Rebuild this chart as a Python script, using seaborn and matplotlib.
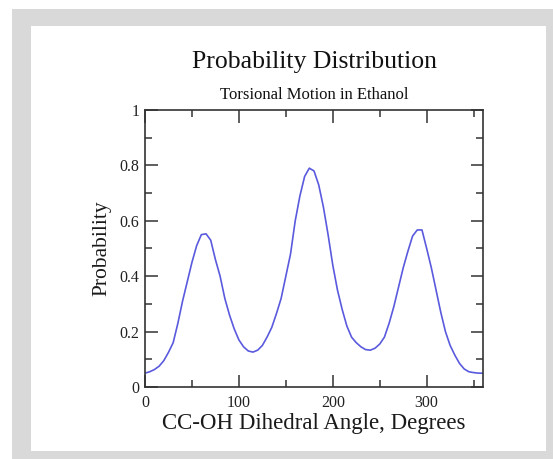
import numpy as np
import pandas as pd
import matplotlib
matplotlib.use('Agg')
import matplotlib.pyplot as plt
import seaborn as sns
from matplotlib.patches import Rectangle
from matplotlib.ticker import MultipleLocator

# dihedral angle (degrees), sampled every 5 degrees
angle = list(range(0, 361, 5))
# probability
prob = [0.050, 0.055, 0.063, 0.075, 0.095, 0.125, 0.160, 0.230, 0.310, 0.380,
        0.450, 0.510, 0.550, 0.553, 0.530, 0.460, 0.400, 0.320, 0.260, 0.210,
        0.170, 0.145, 0.130, 0.126, 0.133, 0.150, 0.180, 0.215, 0.265, 0.320,
        0.400, 0.480, 0.600, 0.690, 0.760, 0.790, 0.780, 0.730, 0.650, 0.550,
        0.440, 0.350, 0.280, 0.220, 0.180, 0.160, 0.145, 0.135, 0.133, 0.140,
        0.155, 0.180, 0.230, 0.290, 0.360, 0.430, 0.490, 0.545, 0.567, 0.567,
        0.500, 0.430, 0.350, 0.270, 0.200, 0.150, 0.115, 0.085, 0.065, 0.055,
        0.052, 0.050, 0.050]

x_ticks = [0, 100, 200, 300]
x_ticklabels = ['0', '100', '200', '300']
y_ticks = [0, 0.2, 0.4, 0.6, 0.8, 1.0]
y_ticklabels = ['0', '0.2', '0.4', '0.6', '0.8', '1']

title = 'Probability Distribution'
subtitle = 'Torsional Motion in Ethanol'
xlabel = 'CC-OH Dihedral Angle, Degrees'
ylabel = 'Probability'

frame = pd.DataFrame({'angle': angle, 'prob': prob})

sns.set_style('ticks')
plt.rcParams['font.family'] = ['Liberation Serif', 'DejaVu Serif']

W, H = 553, 459
fig = plt.figure(figsize=(W / 100, H / 100), dpi=100)
fig.patch.set_facecolor('white')

# grey frame with white panel, like the page screenshot
fig.patches.append(Rectangle((12 / W, 0), (W - 12) / W, (H - 9) / H,
                             transform=fig.transFigure, facecolor='#d9d9d9',
                             edgecolor='none', zorder=-10))
fig.patches.append(Rectangle((31 / W, 8 / H), (546 - 31) / W, (451 - 26) / H,
                             transform=fig.transFigure, facecolor='white',
                             edgecolor='none', zorder=-9))

ax = fig.add_axes([145 / W, (H - 387) / H, (483 - 145) / W, (387 - 110) / H])
ax.set_facecolor('white')

sns.lineplot(data=frame, x='angle', y='prob', color='#5a5ade',
             linewidth=1.2, ax=ax)

ax.set_xlim(0, 360)
ax.set_ylim(0, 1)
ax.set_xticks(x_ticks)
ax.set_xticklabels(x_ticklabels)
ax.set_yticks(y_ticks)
ax.set_yticklabels(y_ticklabels)
ax.xaxis.set_minor_locator(MultipleLocator(50))
ax.yaxis.set_minor_locator(MultipleLocator(0.1))
ax.tick_params(which='both', direction='in', top=True, right=True,
               color='#333333', width=1.1, labelsize=11.5, pad=4,
               labelcolor='#222222')
ax.tick_params(axis='x', which='both', pad=6)
ax.tick_params(which='major', length=9)
ax.tick_params(which='minor', length=5)
for s in ax.spines.values():
    s.set_visible(True)
    s.set_color('#333333')
    s.set_linewidth(1.2)

ax.set_xlabel(xlabel, fontsize=16.5, labelpad=1, color='#1a1a1a')
ax.set_ylabel(ylabel, fontsize=15.5, labelpad=6, color='#1a1a1a')

cx = (145 + 483) / 2 / W
fig.text(cx, (H - 68) / H, title, ha='center', va='baseline', fontsize=18.5,
         color='#111111')
fig.text(cx, (H - 99) / H, subtitle, ha='center', va='baseline', fontsize=12,
         color='#111111')

fig.savefig('out.png', dpi=100, facecolor=fig.get_facecolor())
